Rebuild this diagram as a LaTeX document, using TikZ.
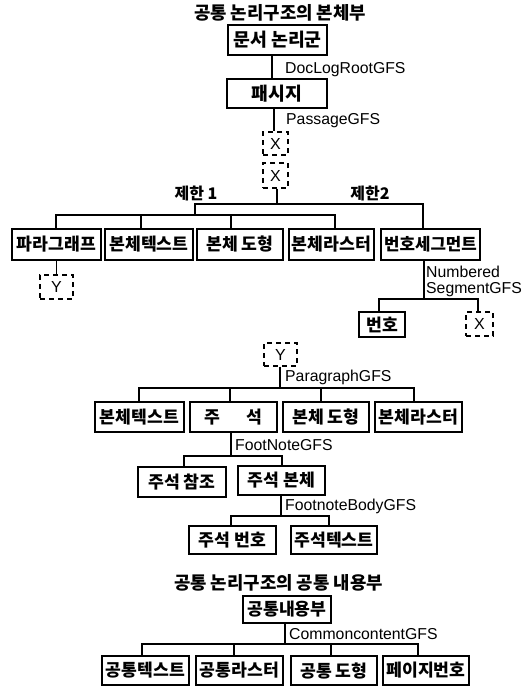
\documentclass[tikz,border=0pt]{standalone}
\usepackage{fontspec}
\setmainfont{Liberation Sans}
\newfontfamily\cjk{Noto Sans CJK KR}
\newcommand{\bx}[6]{\node[boxn,minimum width={(#4-#2)*1pt},minimum height={(#5-#3)*1pt}] (#1) at ({(#2+#4)/2},{(#3+#5)/2}) {#6};}
\newcommand{\dbx}[6]{\node[dashn,minimum width={(#4-#2)*1pt},minimum height={(#5-#3)*1pt}] (#1) at ({(#2+#4)/2},{(#3+#5)/2}) {#6};}
\tikzset{
 boxn/.style={draw=black,line width=1.6pt,inner sep=0pt,font=\cjk\bfseries\fontsize{17.2}{17.2}\selectfont},
 dashn/.style={draw=black,line width=1.2pt,dash pattern=on 5pt off 4pt,inner sep=0pt,font=\fontsize{16}{16}\selectfont},
 titlen/.style={inner sep=0pt,font=\cjk\bfseries\fontsize{17.8}{17.8}\selectfont},
 limn/.style={inner sep=0pt,font=\cjk\bfseries\fontsize{16}{16}\selectfont},
 lab/.style={inner sep=0pt,anchor=west,font=\fontsize{15.8}{15.8}\selectfont},
 conn/.style={draw=black,line width=1.2pt}
}
\begin{document}
\begin{tikzpicture}[x=1pt,y=-1pt]
\useasboundingbox (0,0) rectangle (532,686);
\fill[white] (0,0) rectangle (532,686);
\node[titlen] (t1) at (280,13) {공통 논리구조의 본체부};
\bx{root}{228}{25}{327}{55}{\fontsize{18.3}{18.3}\selectfont 문서 논리군}
\bx{pass}{227}{79}{327}{108}{\fontsize{18.3}{18.3}\selectfont 패시지}
\dbx{x1}{263}{132}{288}{155}{X}
\dbx{x2}{263}{163}{288}{188}{X}
\node[limn] (r1) at (196,193) {제한 1};
\node[limn] (r2) at (370,193) {제한2};
\bx{a1}{12}{229}{101}{260}{파라그래프}
\bx{a2}{105}{229}{193}{260}{본체텍스트}
\bx{a3}{197}{229}{283}{260}{본체 도형}
\bx{a4}{289}{229}{374}{260}{본체라스터}
\bx{a5}{381}{229}{480}{260}{\fontsize{16.8}{16.8}\selectfont 번호세그먼트}
\dbx{ya}{40}{275}{73}{299}{Y}
\bx{n1}{359}{312}{405}{337}{번호}
\dbx{xb}{466}{312}{493}{336}{X}
\dbx{yb}{264}{343}{297}{366}{Y}
\bx{b1}{95}{402}{184}{432}{본체텍스트}
\bx{b2}{190}{402}{277}{432}{주\hspace{26pt}석}
\bx{b3}{283}{402}{369}{432}{본체 도형}
\bx{b4}{375}{402}{462}{432}{본체라스터}
\bx{c1}{138}{467}{226}{497}{주석 참조}
\bx{c2}{238}{466}{325}{495}{주석 본체}
\bx{d1}{189}{526}{276}{554}{주석 번호}
\bx{d2}{291}{526}{377}{554}{주석텍스트}
\node[titlen] (t2) at (278.5,583) {공통 논리구조의 공통 내용부};
\bx{com}{243}{596}{331}{623}{공통내용부}
\bx{e1}{102}{656}{189}{685}{공통텍스트}
\bx{e2}{196}{656}{283}{685}{공통라스터}
\bx{e3}{291}{656}{377}{685}{공통 도형}
\bx{e4}{383}{656}{469}{685}{페이지번호}
\node[lab] (l1) at (285,70) {DocLogRootGFS};
\node[lab] (l2) at (286,121) {PassageGFS};
\node[lab] (l3) at (426,272) {Numbered};
\node[lab] (l4) at (426,290) {SegmentGFS};
\node[lab] (l5) at (285,377) {ParagraphGFS};
\node[lab] (l6) at (235,445) {FootNoteGFS};
\node[lab] (l7) at (285,506) {FootnoteBodyGFS};
\node[lab] (l8) at (289,634) {CommoncontentGFS};
% connectors
\coordinate (h0) at (277,204);
\coordinate (h1) at (195,204);
\coordinate (h2) at (423,204);
\coordinate (h3) at (195,215);
\coordinate (s1) at (272,55);
\coordinate (s2) at (274,108);
\draw[conn] (s1 |- root.south) -- (s1 |- pass.north);
\draw[conn] (s2 |- pass.south) -- (s2 |- x1.north);
\draw[conn] (h0 |- x2.south) -- (h0);
\draw[conn] (h3) -- (h1) -- (h2) -- (h2 |- a5.north);
\coordinate (u1) at (56,215);
\coordinate (u2) at (141,215);
\coordinate (u3) at (231,215);
\coordinate (u4) at (335,215);
\draw[conn] (u1 |- a1.north) -- (u1) -- (u4) -- (u4 |- a4.north);
\draw[conn] (u2) -- (u2 |- a2.north);
\draw[conn] (u3) -- (u3 |- a3.north);
\draw[conn] (a1.south) -- (ya.north);
\coordinate (v0) at (424,299);
\draw[conn] (v0 |- a5.south) -- (v0);
\coordinate (v1) at (379,299);
\coordinate (v2) at (478,299);
\draw[conn] (v1 |- n1.north) -- (v1) -- (v2) -- (v2 |- xb.north);
\coordinate (w0) at (280,388);
\coordinate (w1) at (139,388);
\coordinate (w2) at (230,388);
\coordinate (w3) at (321,388);
\coordinate (w4) at (414,388);
\draw[conn] (w0 |- yb.south) -- (w0);
\draw[conn] (w1 |- b1.north) -- (w1) -- (w4) -- (w4 |- b4.north);
\draw[conn] (w2) -- (w2 |- b2.north);
\draw[conn] (w3) -- (w3 |- b3.north);
\coordinate (p0) at (231,456);
\coordinate (p1) at (184,456);
\coordinate (p2) at (282,456);
\draw[conn] (p0 |- b2.south) -- (p0);
\draw[conn] (p1 |- c1.north) -- (p1) -- (p2) -- (p2 |- c2.north);
\coordinate (q0) at (281,516);
\coordinate (q1) at (231,516);
\coordinate (q2) at (329,516);
\draw[conn] (q0 |- c2.south) -- (q0);
\draw[conn] (q1 |- d1.north) -- (q1) -- (q2) -- (q2 |- d2.north);
\coordinate (z0) at (285,644);
\coordinate (z1) at (142,644);
\coordinate (z2) at (234,644);
\coordinate (z3) at (331,644);
\coordinate (z4) at (418,644);
\draw[conn] (z0 |- com.south) -- (z0);
\draw[conn] (z1 |- e1.north) -- (z1) -- (z4) -- (z4 |- e4.north);
\draw[conn] (z2) -- (z2 |- e2.north);
\draw[conn] (z3) -- (z3 |- e3.north);
\end{tikzpicture}
\end{document}
